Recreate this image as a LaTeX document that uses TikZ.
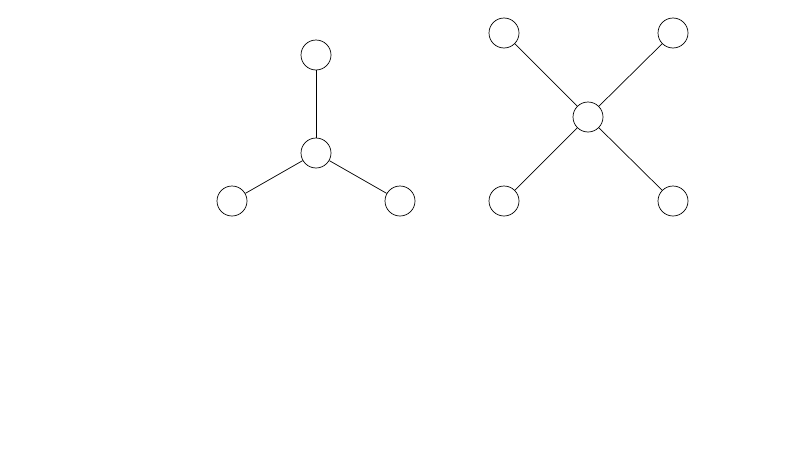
\documentclass[tikz,border=0pt]{standalone}
\begin{document}
\begin{tikzpicture}[x=1pt,y=-1pt,
  vert/.style={circle,draw,line width=0.7pt,minimum size=30pt,inner sep=0pt,fill=white},
  edge/.style={line width=0.7pt}]
\useasboundingbox (0,0) rectangle (800,450);
\node[vert] (c1) at (316,153) {};
\node[vert] (t1) at (316,55) {};
\node[vert] (l1) at (232,201) {};
\node[vert] (r1) at (400,201) {};
\draw[edge] (c1) -- (t1);
\draw[edge] (c1) -- (l1);
\draw[edge] (c1) -- (r1);
\node[vert] (c2) at (588,117) {};
\node[vert] (a2) at (504,33) {};
\node[vert] (b2) at (673,33) {};
\node[vert] (d2) at (504,201) {};
\node[vert] (e2) at (673,201) {};
\draw[edge] (c2) -- (a2);
\draw[edge] (c2) -- (b2);
\draw[edge] (c2) -- (d2);
\draw[edge] (c2) -- (e2);
\end{tikzpicture}
\end{document}
